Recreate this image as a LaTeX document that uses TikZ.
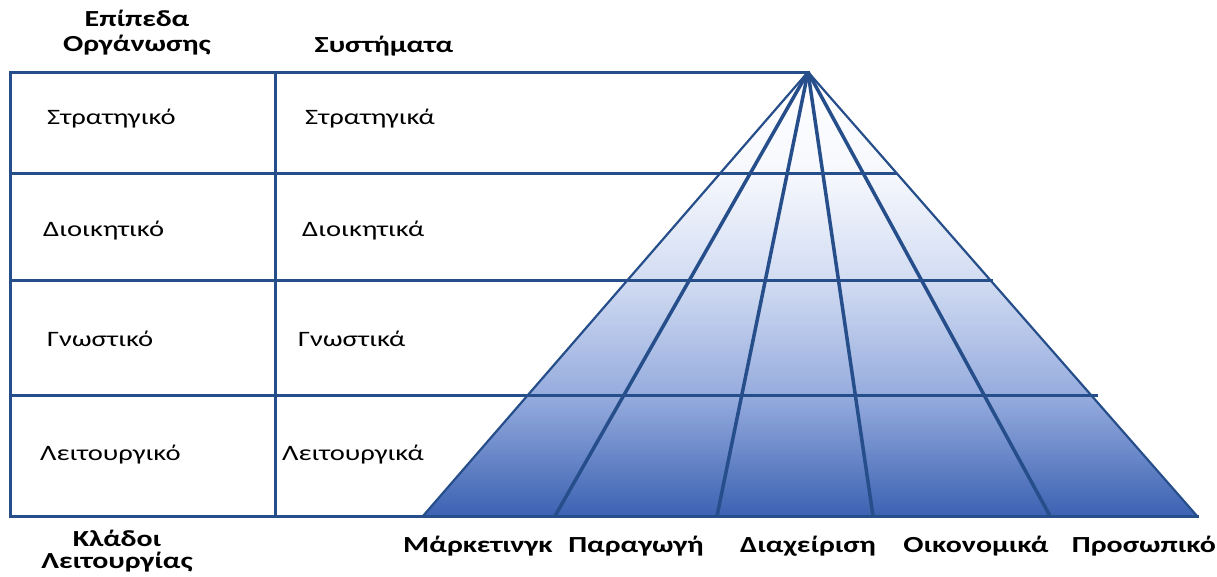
\documentclass[tikz,border=0pt]{standalone}
\usepackage{fontspec}
\setmainfont{Carlito}
\newfontfamily\wide[FakeStretch=1.3]{Carlito}
\definecolor{ln}{RGB}{38,78,138}
\definecolor{c0}{RGB}{60,98,178}
\definecolor{c1}{RGB}{150,172,222}
\definecolor{c2}{RGB}{210,220,242}
\definecolor{c3}{RGB}{246,248,253}
\pgfdeclareverticalshading{pyr}{100bp}{color(0bp)=(c0); color(25bp)=(c0); color(38.6bp)=(c1); color(51.6bp)=(c2); color(63.6bp)=(c3); color(75bp)=(white); color(100bp)=(white)}
\tikzset{
  lab/.style={font=\wide\fontsize{22}{24}\selectfont, anchor=base west, inner sep=0pt},
  hdr/.style={font=\wide\fontsize{23}{24}\selectfont\bfseries, anchor=base, inner sep=0pt},
  boxline/.style={draw=ln, line width=3pt},
  edge/.style={draw=ln, line width=2.2pt},
  ray/.style={draw=ln, line width=3.5pt},
}
\begin{document}
\begin{tikzpicture}[x=1pt,y=-1pt]
\useasboundingbox (0,0) rectangle (1217,576);
% coordinates
\coordinate (apex) at (808,72);
\coordinate (tl) at (10,72);
\coordinate (bl) at (10,516);
\coordinate (dt) at (275,72);
\coordinate (db) at (275,516);
\coordinate (pl) at (423,516);
\coordinate (pr) at (1197,516);
\coordinate (b1) at (555,516);
\coordinate (b2) at (717,516);
\coordinate (b3) at (873,516);
\coordinate (b4) at (1050,516);
\coordinate (h1l) at (10,173);
\coordinate (h1r) at (897,173);
\coordinate (h2l) at (10,280);
\coordinate (h2r) at (993,280);
\coordinate (h3l) at (10,395);
\coordinate (h3r) at (1098,395);
% pyramid fill
\shade[shading=pyr] (apex) -- (pl) -- (pr) -- cycle;
% lines
\draw[ray] (apex) -- (b1);
\draw[ray] (apex) -- (b2);
\draw[ray] (apex) -- (b3);
\draw[ray] (apex) -- (b4);
\draw[edge] (apex) -- (pl);
\draw[edge] (apex) -- (pr);
\draw[boxline] (h1l) -- (h1r);
\draw[boxline] (h2l) -- (h2r);
\draw[boxline] (h3l) -- (h3r);
\draw[boxline, line cap=rect] (apex) -- (tl) -- (bl) -- (pr);
\draw[boxline] (dt) -- (db);
% headers
\node[hdr] (h1a) at (137,26) {Επίπεδα};
\node[hdr] (h1b) at (137,51) {Οργάνωσης};
\node[hdr] (h2) at (384,52) {Συστήματα};
\node[hdr] (k1) at (117,546) {Κλάδοι};
\node[hdr] (k2) at (117,568) {Λειτουργίας};
% row labels
\node[lab] (r1a) at (47,124) {Στρατηγικό};
\node[lab] (r1b) at (305,124) {Στρατηγικά};
\node[lab] (r2a) at (43,236) {Διοικητικό};
\node[lab] (r2b) at (302,236) {Διοικητικά};
\node[lab] (r3a) at (47,346) {Γνωστικό};
\node[lab] (r3b) at (298,346) {Γνωστικά};
\node[lab] (r4a) at (40,460) {Λειτουργικό};
\node[lab] (r4b) at (282,460) {Λειτουργικά};
% bottom labels
\node[hdr] (f1) at (478,552) {Μάρκετινγκ};
\node[hdr] (f2) at (636,552) {Παραγωγή};
\node[hdr] (f3) at (808,552) {Διαχείριση};
\node[hdr] (f4) at (976,552) {Οικονομικά};
\node[hdr] (f5) at (1144,552) {Προσωπικό};
\end{tikzpicture}
\end{document}
